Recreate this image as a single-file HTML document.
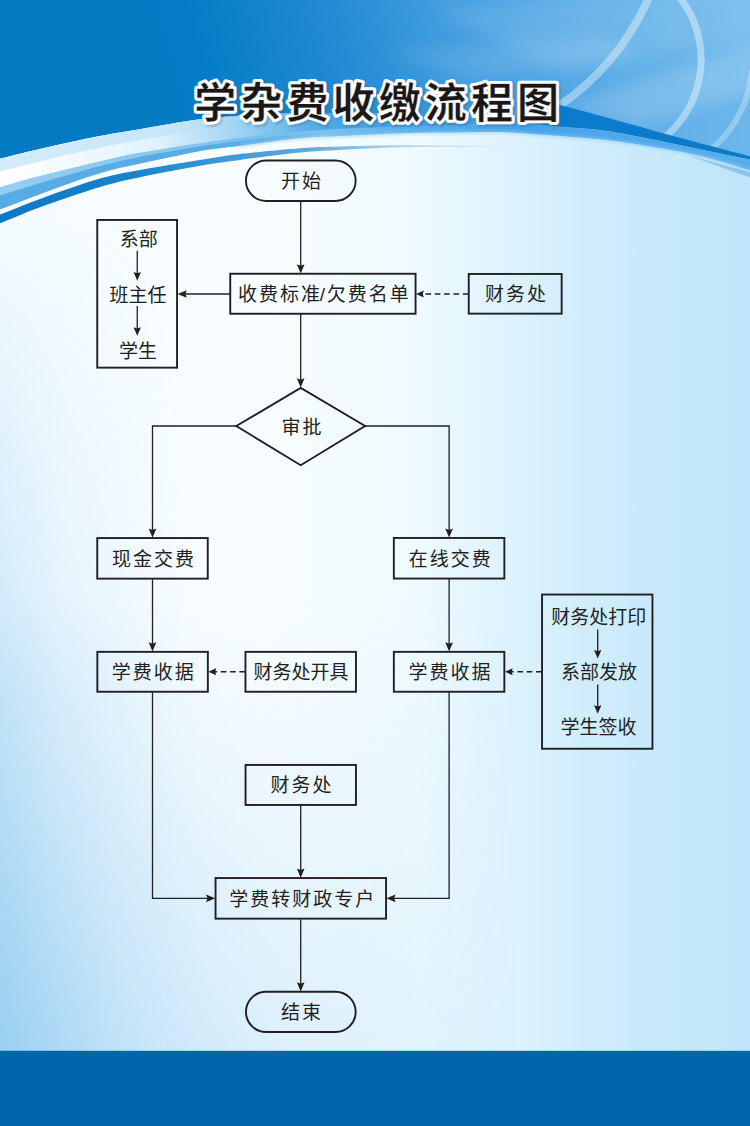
<!DOCTYPE html>
<html lang="zh-CN">
<head>
<meta charset="utf-8">
<title>学杂费收缴流程图</title>
<style>
html,body{margin:0;padding:0;background:#ffffff;}
body{width:750px;height:1126px;overflow:hidden;font-family:"Liberation Sans","Noto Sans CJK SC",sans-serif;}
#page{position:relative;width:750px;height:1126px;overflow:hidden;}
svg text{font-family:"Liberation Sans","Noto Sans CJK SC",sans-serif;}
</style>
</head>
<body>
<div id="page">
<svg width="750" height="1126" viewBox="0 0 750 1126" style="position:absolute;left:0;top:0;display:block">
<defs>
<linearGradient id="bgH" x1="0" y1="0" x2="750" y2="0" gradientUnits="userSpaceOnUse"><stop offset="0" stop-color="#f6fcff"/><stop offset="0.36" stop-color="#f8fdff"/><stop offset="0.56" stop-color="#eefafe"/><stop offset="0.60" stop-color="#e8f7fe"/><stop offset="0.76" stop-color="#d3eefc"/><stop offset="0.92" stop-color="#c3e7fa"/><stop offset="1" stop-color="#c0e5fa"/></linearGradient>
<linearGradient id="bgL" x1="0" y1="0" x2="200" y2="0" gradientUnits="userSpaceOnUse"><stop offset="0" stop-color="#82c4ee" stop-opacity="0.38"/><stop offset="0.3" stop-color="#82c4ee" stop-opacity="0.19"/><stop offset="0.75" stop-color="#82c4ee" stop-opacity="0.05"/><stop offset="1" stop-color="#82c4ee" stop-opacity="0"/></linearGradient>
<linearGradient id="mLg" x1="0" y1="200" x2="0" y2="700" gradientUnits="userSpaceOnUse"><stop offset="0" stop-color="#000"/><stop offset="1" stop-color="#fff"/></linearGradient>
<mask id="mL" maskUnits="userSpaceOnUse" x="0" y="150" width="210" height="976"><rect x="0" y="150" width="210" height="976" fill="url(#mLg)"/></mask>
<linearGradient id="bgR" x1="0" y1="0" x2="520" y2="0" gradientUnits="userSpaceOnUse"><stop offset="0" stop-color="#82c4ee" stop-opacity="0.67"/><stop offset="0.23" stop-color="#82c4ee" stop-opacity="0.40"/><stop offset="0.29" stop-color="#82c4ee" stop-opacity="0.37"/><stop offset="0.58" stop-color="#82c4ee" stop-opacity="0.20"/><stop offset="0.77" stop-color="#82c4ee" stop-opacity="0.13"/><stop offset="1" stop-color="#82c4ee" stop-opacity="0"/></linearGradient>
<linearGradient id="mRg" x1="0" y1="600" x2="0" y2="1050" gradientUnits="userSpaceOnUse"><stop offset="0" stop-color="#000"/><stop offset="0.33" stop-color="#4d4d4d"/><stop offset="0.89" stop-color="#e6e6e6"/><stop offset="1" stop-color="#fff"/></linearGradient>
<mask id="mR" maskUnits="userSpaceOnUse" x="0" y="560" width="540" height="566"><rect x="0" y="560" width="540" height="566" fill="url(#mRg)"/></mask>
<filter id="blur1" x="-5%" y="-20%" width="110%" height="150%"><feGaussianBlur stdDeviation="1.3"/></filter>
<linearGradient id="hA" x1="140" y1="120" x2="730" y2="-40" gradientUnits="userSpaceOnUse"><stop offset="0" stop-color="#027bc3"/><stop offset="0.12" stop-color="#047dc6"/><stop offset="0.32" stop-color="#1f89d2"/><stop offset="0.55" stop-color="#459fe0"/><stop offset="0.78" stop-color="#5eaee7"/><stop offset="1" stop-color="#6fb9eb"/></linearGradient>
<clipPath id="cR"><path d="M330 -10H760V159L760 159C758.33 158.55 764.5 160.13 750 156.3C735.5 152.47 696 142.22 673 136C650 129.78 630.83 124.17 612 119C593.17 113.83 575.33 109 560 105C544.67 101 526.67 96.67 520 95L480 96L330 60Z"/></clipPath>
<filter id="blur3" x="-20%" y="-20%" width="140%" height="140%"><feGaussianBlur stdDeviation="3"/></filter>
<filter id="blur8" x="-30%" y="-30%" width="160%" height="160%"><feGaussianBlur stdDeviation="8"/></filter>
<linearGradient id="hW" x1="515" y1="0" x2="750" y2="0" gradientUnits="userSpaceOnUse"><stop offset="0" stop-color="#0b7ccb" stop-opacity="0"/><stop offset="0.12" stop-color="#0b7ccb" stop-opacity="1"/><stop offset="1" stop-color="#0a7ac8"/></linearGradient>
<linearGradient id="hC" x1="0" y1="0" x2="750" y2="0" gradientUnits="userSpaceOnUse"><stop offset="0" stop-color="#6bb8ea"/><stop offset="0.32" stop-color="#62b4e8"/><stop offset="0.43" stop-color="#7cc2ee"/><stop offset="0.56" stop-color="#58aeea"/><stop offset="0.70" stop-color="#46a3ea"/><stop offset="1" stop-color="#58afec"/></linearGradient>
<linearGradient id="hC2" x1="0" y1="0" x2="330" y2="0" gradientUnits="userSpaceOnUse"><stop offset="0" stop-color="#52a9e4" stop-opacity="0.85"/><stop offset="0.6" stop-color="#52a9e4" stop-opacity="0.7"/><stop offset="1" stop-color="#4aa3e0" stop-opacity="0"/></linearGradient>
<linearGradient id="hC3" x1="0" y1="0" x2="330" y2="0" gradientUnits="userSpaceOnUse"><stop offset="0" stop-color="#a6d6f4" stop-opacity="0.7"/><stop offset="0.6" stop-color="#a6d6f4" stop-opacity="0.5"/><stop offset="1" stop-color="#a6d6f4" stop-opacity="0"/></linearGradient>
<filter id="blur15" x="-5%" y="-50%" width="110%" height="200%"><feGaussianBlur stdDeviation="1.4"/></filter>
<linearGradient id="hB" x1="0" y1="0" x2="750" y2="0" gradientUnits="userSpaceOnUse"><stop offset="0" stop-color="#ffffff"/><stop offset="0.10" stop-color="#f1f9fe"/><stop offset="0.21" stop-color="#dff2fc"/><stop offset="0.31" stop-color="#a3d6f4"/><stop offset="0.43" stop-color="#4fa9e7"/><stop offset="0.56" stop-color="#3d9de8"/><stop offset="0.72" stop-color="#3a9ae8"/></linearGradient>
<linearGradient id="hB2" x1="0" y1="0" x2="320" y2="0" gradientUnits="userSpaceOnUse"><stop offset="0" stop-color="#cde9f9" stop-opacity="0.85"/><stop offset="0.42" stop-color="#bfe3f7" stop-opacity="0.75"/><stop offset="0.68" stop-color="#9fd3f3" stop-opacity="0"/><stop offset="1" stop-color="#7fc3ee" stop-opacity="0"/></linearGradient>
<linearGradient id="hD" x1="0" y1="0" x2="530" y2="0" gradientUnits="userSpaceOnUse"><stop offset="0" stop-color="#0a78c4"/><stop offset="0.25" stop-color="#1a83cc"/><stop offset="0.42" stop-color="#3f98d5"/><stop offset="0.58" stop-color="#5fa8da"/><stop offset="0.76" stop-color="#7fb8dc" stop-opacity="0.6"/><stop offset="1" stop-color="#8cc0e0" stop-opacity="0"/></linearGradient>
<text id="ttl" x="194.3" y="118.16" font-size="42" font-weight="bold" letter-spacing="4.1" font-family="&quot;Liberation Sans&quot;,&quot;Noto Sans CJK SC&quot;,sans-serif">学杂费收缴流程图</text>
</defs>
<rect x="0" y="0" width="750" height="1126" fill="url(#bgH)"/>
<rect x="0" y="150" width="210" height="976" fill="url(#bgL)" mask="url(#mL)"/>
<rect x="0" y="560" width="540" height="566" fill="url(#bgR)" mask="url(#mR)"/>
<path d="M-10 -10H760V162L760 162C758.33 161.63 760 161.92 750 159.8C740 157.68 718.33 153.1 700 149.3C681.67 145.5 656.67 140.22 640 137C623.33 133.78 613.33 131.72 600 130C586.67 128.28 574.17 128.03 560 126.7C545.83 125.37 538.33 123.95 515 122C491.67 120.05 452.5 116.5 420 115C387.5 113.5 346.67 113.08 320 113C293.33 112.92 280 113.45 260 114.5C240 115.55 220 116.83 200 119.3C180 121.77 156.67 126.5 140 129.3C123.33 132.1 116.67 132.82 100 136.1C83.33 139.38 56.67 145.22 40 149C23.33 152.78 8.33 156.72 0 158.8C-8.33 160.88 -8.33 161.05 -10 161.5Z" fill="url(#hA)"/>
<g clip-path="url(#cR)"><path d="M430 10L760 -20L760 40L560 70Z" fill="#ffffff" opacity="0.10" filter="url(#blur8)"/><path d="M560 110L760 40L760 90L640 125Z" fill="#ffffff" opacity="0.16" filter="url(#blur8)"/><path d="M380 52L600 36L640 58L470 78Z" fill="#ffffff" opacity="0.10" filter="url(#blur8)"/><g fill="none" stroke="#ffffff"><path d="M650.5 -6A260 260 0 0 1 556 108" stroke-width="8" opacity="0.38"/><path d="M676 -7A101 101 0 0 1 660 141" stroke-width="7" opacity="0.40"/><path d="M752 70A112 112 0 0 1 700 157" stroke-width="6" opacity="0.28"/></g></g>
<path d="M520 95C526.67 96.67 544.67 101 560 105C575.33 109 593.17 113.83 612 119C630.83 124.17 650 129.78 673 136C696 142.22 735.5 152.47 750 156.3C764.5 160.13 758.33 158.55 760 159L760 162L760 162C758.33 161.63 760 161.92 750 159.8C740 157.68 718.33 153.1 700 149.3C681.67 145.5 656.67 140.22 640 137C623.33 133.78 613.33 131.72 600 130C586.67 128.28 574.17 128.03 560 126.7C545.83 125.37 522.5 122.78 515 122Z" fill="url(#hW)"/>
<path d="M-10 161.5C-8.33 161.05 -8.33 160.88 0 158.8C8.33 156.72 23.33 152.78 40 149C56.67 145.22 83.33 139.38 100 136.1C116.67 132.82 123.33 132.1 140 129.3C156.67 126.5 180 121.77 200 119.3C220 116.83 240 115.55 260 114.5C280 113.45 293.33 112.92 320 113C346.67 113.08 387.5 113.5 420 115C452.5 116.5 491.67 120.05 515 122C538.33 123.95 545.83 125.37 560 126.7C574.17 128.03 586.67 128.28 600 130C613.33 131.72 623.33 133.78 640 137C656.67 140.22 681.67 145.5 700 149.3C718.33 153.1 740 157.68 750 159.8C760 161.92 758.33 161.63 760 162L760 173.5C758.33 172.97 760 173.27 750 170.3C740 167.33 718.33 159.97 700 155.7C681.67 151.43 656.67 147.43 640 144.7C623.33 141.97 616.67 141 600 139.3C583.33 137.6 556.67 135.72 540 134.5C523.33 133.28 516.67 132.32 500 132C483.33 131.68 456.67 132.38 440 132.6C423.33 132.82 416.67 132.73 400 133.3C383.33 133.87 356.67 135.22 340 136C323.33 136.78 316.67 136.38 300 138C283.33 139.62 256.67 143.53 240 145.7C223.33 147.87 216.67 148.03 200 151C183.33 153.97 156.67 159.87 140 163.5C123.33 167.13 116.67 167.72 100 172.8C83.33 177.88 56.67 187.87 40 194C23.33 200.13 8.33 206.52 0 209.6C-8.33 212.68 -8.33 212.02 -10 212.5Z" fill="url(#hC)"/>
<path d="M-10 198.55C-5 197 10 192.37 20 189.28C30 186.18 40 182.97 50 180C60 177.03 70 174.22 80 171.48C90 168.74 100 166 110 163.56C120 161.13 130 158.87 140 156.87C150 154.86 160 153.3 170 151.52C180 149.73 190 147.72 200 146.16C210 144.61 220 143.46 230 142.19C240 140.92 250 139.74 260 138.57C270 137.39 280 136.07 290 135.12C300 134.17 315 133.24 320 132.87L320 137C315 137.38 300 138.26 290 139.28C280 140.31 270 141.84 260 143.13C250 144.42 240 145.71 230 147.02C220 148.34 210 149.3 200 151C190 152.7 180 155.17 170 157.25C160 159.33 150 161.3 140 163.5C130 165.7 120 167.75 110 170.48C100 173.2 90 176.53 80 179.87C70 183.2 60 186.81 50 190.47C40 194.12 30 198.13 20 201.8C10 205.47 -5 210.72 -10 212.5Z" fill="url(#hC2)"/>
<path d="M-10 190C-5 188.6 10 184.34 20 181.6C30 178.86 40 176.13 50 173.58C60 171.04 70 168.71 80 166.33C90 163.96 100 161.58 110 159.32C120 157.07 130 154.69 140 152.8C150 150.91 160 149.6 170 148C180 146.4 190 144.66 200 143.2C210 141.74 220 140.46 230 139.22C240 137.99 250 136.88 260 135.77C270 134.66 280 133.47 290 132.57C300 131.66 315 130.71 320 130.33L320 132.87C315 133.24 300 134.17 290 135.12C280 136.07 270 137.39 260 138.57C250 139.74 240 140.92 230 142.19C220 143.46 210 144.61 200 146.16C190 147.72 180 149.73 170 151.52C160 153.3 150 154.86 140 156.87C130 158.87 120 161.13 110 163.56C100 166 90 168.74 80 171.48C70 174.22 60 177.03 50 180C40 182.97 30 186.18 20 189.28C10 192.37 -5 197 -10 198.55Z" fill="url(#hC3)"/>
<path d="M240 145.7C250 144.42 283.33 139.62 300 138C316.67 136.38 323.33 136.78 340 136C356.67 135.22 383.33 133.87 400 133.3C416.67 132.73 423.33 132.82 440 132.6C456.67 132.38 483.33 131.68 500 132C516.67 132.32 523.33 133.28 540 134.5C556.67 135.72 583.33 137.6 600 139.3C616.67 141 623.33 141.97 640 144.7C656.67 147.43 681.67 151.43 700 155.7C718.33 159.97 740 167.33 750 170.3C760 173.27 758.33 172.97 760 173.5" fill="none" stroke="#8ccaf2" stroke-width="3.2" opacity="0.55" filter="url(#blur15)"/>
<path d="M-10 161.5C-8.33 161.05 -8.33 160.88 0 158.8C8.33 156.72 23.33 152.78 40 149C56.67 145.22 83.33 139.38 100 136.1C116.67 132.82 123.33 132.1 140 129.3C156.67 126.5 180 121.77 200 119.3C220 116.83 240 115.55 260 114.5C280 113.45 293.33 112.92 320 113C346.67 113.08 387.5 113.5 420 115C452.5 116.5 491.67 120.05 515 122C538.33 123.95 552.5 125.92 560 126.7L540 125C533.33 124.75 516.67 123.42 500 123.5C483.33 123.58 463.33 124.75 440 125.5C416.67 126.25 383.33 127 360 128C336.67 129 320 129.85 300 131.5C280 133.15 256.67 135.95 240 137.9C223.33 139.85 216.67 140.72 200 143.2C183.33 145.68 156.67 149.75 140 152.8C123.33 155.85 116.67 157.63 100 161.5C83.33 165.37 56.67 171.72 40 176C23.33 180.28 8.33 184.87 0 187.2C-8.33 189.53 -8.33 189.53 -10 190Z" fill="url(#hB)"/>
<path d="M-10 161.5C-5 160.23 10 156.34 20 153.9C30 151.46 40 149.1 50 146.85C60 144.6 70 142.47 80 140.4C90 138.33 100 136.25 110 134.4C120 132.55 130 130.98 140 129.3C150 127.62 160 125.97 170 124.3C180 122.63 190 120.53 200 119.3C210 118.07 220 117.7 230 116.9C240 116.1 250 115.03 260 114.5C270 113.97 280 114 290 113.75C300 113.5 315 113.12 320 113L320 120.8C315 121.04 300 121.67 290 122.22C280 122.76 270 123.28 260 124.07C250 124.86 240 125.95 230 126.95C220 127.94 210 128.72 200 130.06C190 131.39 180 133.33 170 134.97C160 136.6 150 138.1 140 139.88C130 141.65 120 143.58 110 145.62C100 147.65 90 149.86 80 152.07C70 154.28 60 156.5 50 158.88C40 161.26 30 163.79 20 166.37C10 168.94 -5 173 -10 174.32Z" fill="url(#hB2)"/>
<path d="M-10 217.5C-8.33 217 -8.33 217.6 0 214.5C8.33 211.4 23.33 204.88 40 198.9C56.67 192.92 83.33 183.43 100 178.6C116.67 173.77 123.33 173.02 140 169.9C156.67 166.78 183.33 162.55 200 159.9C216.67 157.25 223.33 155.95 240 154C256.67 152.05 283.33 149.47 300 148.2C316.67 146.93 323.33 146.9 340 146.4C356.67 145.9 380 145.3 400 145.2C420 145.1 440 145.47 460 145.8C480 146.13 510 146.97 520 147.2L520 147.6C510 147.5 480 147.05 460 147C440 146.95 420 146.8 400 147.3C380 147.8 356.67 149.12 340 150C323.33 150.88 316.67 150.95 300 152.6C283.33 154.25 256.67 157.72 240 159.9C223.33 162.08 216.67 162.82 200 165.7C183.33 168.58 156.67 173.65 140 177.2C123.33 180.75 116.67 182 100 187C83.33 192 56.67 201.15 40 207.2C23.33 213.25 8.33 220.12 0 223.3C-8.33 226.48 -8.33 225.8 -10 226.3Z" fill="url(#hD)"/>
<path d="M690 156L760 175L760 181Z" fill="#5aa4dc" opacity="0.5"/>
<rect x="0" y="1050.8" width="750" height="76" fill="#0066ac"/>
<g stroke="#231f20" stroke-width="1.9" stroke-linejoin="miter">
<rect x="230.25" y="273.75" width="185.3" height="40" fill="none"/>
<rect x="97.25" y="219.95" width="79.8" height="147.7" fill="none"/>
<rect x="468.75" y="273.95" width="92.9" height="39.7" fill="none"/>
<rect x="97.25" y="538.05" width="110.5" height="40.6" fill="none"/>
<rect x="393.85" y="537.95" width="110.5" height="40.6" fill="none"/>
<rect x="97.35" y="651.85" width="110.5" height="39.9" fill="none"/>
<rect x="393.85" y="651.85" width="110.5" height="39.9" fill="none"/>
<rect x="245.45" y="651.85" width="110.5" height="39.9" fill="none"/>
<rect x="542.05" y="594.55" width="110.4" height="154.2" fill="none"/>
<rect x="245.55" y="764.95" width="110.4" height="40" fill="none"/>
<rect x="215.55" y="878.05" width="170.5" height="40.6" fill="none"/>
<rect x="245.95" y="160.45" width="109.7" height="40.5" rx="20.25" ry="20.25" fill="none"/>
<rect x="245.95" y="991.75" width="109.7" height="40.3" rx="20.15" ry="20.15" fill="none"/>
<polygon points="236.3,426.0 300.7,387.9 365.1,426.0 300.7,465.2" fill="none"/>
</g>
<g fill="none" stroke="#231f20" stroke-width="1.3">
<polyline points="300.7,201.5 300.7,270"/>
<polyline points="300.7,314.2 300.7,384"/>
<polyline points="230,294 182,294"/>
<polyline points="236.5,426 152.5,426 152.5,534"/>
<polyline points="364.9,426 449.1,426 449.1,534"/>
<polyline points="152.5,579.2 152.5,648"/>
<polyline points="449.1,579.1 449.1,648"/>
<polyline points="152.5,692.3 152.5,898.3 211,898.3"/>
<polyline points="449.1,692.3 449.1,898.3 391,898.3"/>
<polyline points="300.7,805.5 300.7,874"/>
<polyline points="300.7,919.2 300.7,988"/>
<polyline points="137.25,250.8 137.25,277"/>
<polyline points="137.25,306 137.25,332"/>
<polyline points="597.7,629.6 597.7,654.6"/>
<polyline points="597.7,684.6 597.7,709.6"/>
</g>
<g fill="none" stroke="#231f20" stroke-width="1.6" stroke-dasharray="5.6 3.7">
<polyline points="468.3,294 419,294"/>
<polyline points="245,671.8 211.5,671.8"/>
<polyline points="541.6,671.8 508,671.8"/>
</g>
<g fill="#231f20" stroke="none">
<polygon points="300.7,273.4 296.85,264.2 300.7,265.7 304.55,264.2"/>
<polygon points="300.7,387.4 296.85,378.2 300.7,379.7 304.55,378.2"/>
<polygon points="177.6,294 186.8,290.15 185.3,294 186.8,297.85"/>
<polygon points="416,294 423.8,290.5 422.8,294 423.8,297.5"/>
<polygon points="152.5,537.7 148.65,528.5 152.5,530 156.35,528.5"/>
<polygon points="449.1,537.6 445.25,528.4 449.1,529.9 452.95,528.4"/>
<polygon points="152.5,651.5 148.65,642.3 152.5,643.8 156.35,642.3"/>
<polygon points="449.1,651.5 445.25,642.3 449.1,643.8 452.95,642.3"/>
<polygon points="208.4,671.8 216.2,668.3 215.2,671.8 216.2,675.3"/>
<polygon points="504.9,671.8 512.7,668.3 511.7,671.8 512.7,675.3"/>
<polygon points="215.2,898.3 206,894.45 207.5,898.3 206,902.15"/>
<polygon points="386.4,898.3 395.6,894.45 394.1,898.3 395.6,902.15"/>
<polygon points="300.7,877.7 296.85,868.5 300.7,870 304.55,868.5"/>
<polygon points="300.7,991.4 296.85,982.2 300.7,983.7 304.55,982.2"/>
<polygon points="137.25,280.7 133.55,272.1 137.25,273.3 140.95,272.1"/>
<polygon points="137.25,335.8 133.55,327.2 137.25,328.4 140.95,327.2"/>
<polygon points="597.7,658.6 594,650 597.7,651.2 601.4,650"/>
<polygon points="597.7,713.8 594,705.2 597.7,706.4 601.4,705.2"/>
</g>
<g fill="#231f20" stroke="none" font-size="19" font-family="&quot;Liberation Sans&quot;,&quot;Noto Sans CJK SC&quot;,sans-serif">
<text x="280.96" y="188.22" letter-spacing="2">开始</text>
<text x="119.68" y="246.27">系部</text>
<text x="109.62" y="301.52">班主任</text>
<text x="118.91" y="357.72">学生</text>
<text x="238.03 259.03 280.03 301.03 319.73 326.84 347.84 368.84 389.84" y="301.27">收费标准/欠费名单</text>
<text x="484.88" y="301.32" letter-spacing="2">财务处</text>
<text x="281.47" y="434.02" letter-spacing="2">审批</text>
<text x="111.91" y="565.82" letter-spacing="2">现金交费</text>
<text x="408.73" y="565.82" letter-spacing="2">在线交费</text>
<text x="111.64" y="679.32" letter-spacing="2">学费收据</text>
<text x="408.44" y="679.32" letter-spacing="2">学费收据</text>
<text x="253.53" y="679.32">财务处开具</text>
<text x="551.18" y="623.52">财务处打印</text>
<text x="560.9" y="679.22">系部发放</text>
<text x="560.43" y="734.12">学生签收</text>
<text x="270.48" y="792.42" letter-spacing="2">财务处</text>
<text x="229.33" y="905.82" letter-spacing="2">学费转财政专户</text>
<text x="281.07" y="1019.32" letter-spacing="2">结束</text>
</g>
<use href="#ttl" transform="translate(1.8 2.2)" fill="#3c5870" stroke="#3c5870" stroke-width="5.6" stroke-linejoin="round" opacity="0.32" filter="url(#blur1)"/><use href="#ttl" fill="#ffffff" stroke="#ffffff" stroke-width="5.6" stroke-linejoin="round"/><use href="#ttl" fill="#1a1718" stroke="#ffffff" stroke-width="0.4" stroke-linejoin="round"/>
</svg>
</div>
</body>
</html>
